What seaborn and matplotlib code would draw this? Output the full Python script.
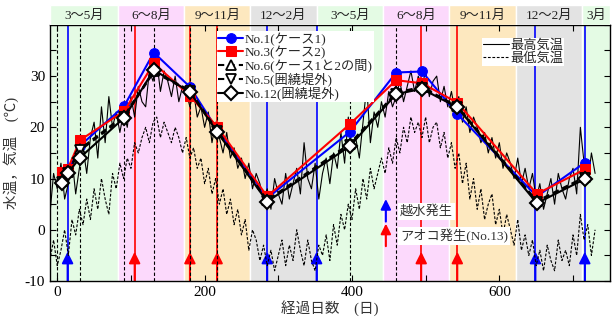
import numpy as np
import pandas as pd
import seaborn as sns
import matplotlib.pyplot as plt
from matplotlib.ticker import MultipleLocator, FuncFormatter

# sampling days and water temperature at each point
sample_days = [7, 14, 31, 91, 131, 180, 217, 285, 397, 460, 495, 543, 651, 716]
no1 = [10.8, 11.5, 16.4, 24.2, 34.6, 27.9, 19.6, 6.2, 19.1, 30.7, 30.9, 22.6, 6.5, 13.1]
no3 = [11.2, 11.8, 17.5, 23.2, 32.5, 26.2, 20.1, 6.5, 20.6, 29.2, 28.6, 24.8, 7.0, 11.8]
no6 = [9.6, 11.2, 15.8, 22.3, 31.0, 27.2, 19.4, 5.8, 16.8, 26.8, 27.9, 24.1, 5.6, 10.3]
no5 = [9.4, 11.0, 15.5, 22.0, 30.8, 27.0, 19.2, 5.6, 16.5, 26.6, 27.6, 24.0, 5.4, 10.1]
no12 = [9.2, 11.0, 14.1, 21.9, 31.2, 26.9, 19.1, 5.5, 16.3, 26.5, 27.5, 23.9, 5.2, 9.9]

# air temperature, read every 5 days from day -10 to day 730
max_temp = [3, 11, 8, 13, 6, 9, 14, 7, 12, 16,
            11, 18, 21, 14, 24, 17, 26, 20, 23, 19,
            23, 20, 26, 22, 28, 25, 24, 31, 29, 33,
            27, 31, 29, 26, 30, 25, 28, 27, 24, 27,
            22, 24, 20, 23, 17, 21, 18, 15, 19, 14,
            16, 12, 14, 10, 13, 8, 11, 9, 6, 8,
            4, 10, 7, 5, 11, 6, 9, 12, 7, 17,
            10, 8, 13, 6, 11, 14, 9, 15, 12, 19,
            13, 22, 16, 18, 14, 21, 28, 17, 23, 20,
            25, 22, 27, 24, 26, 29, 25, 28, 31, 27,
            30, 28, 31, 26, 29, 30, 25, 28, 24, 27,
            23, 26, 21, 24, 19, 22, 20, 17, 19, 15,
            18, 14, 17, 12, 15, 13, 10, 14, 9, 12,
            8, 11, 6, 9, 4, 7, 10, 5, 11, 8,
            6, 10, 12, 7, 20, 13, 9, 15, 11]
min_temp = [-6, -2, -7, -4, 0, -5, 2, -1, 4, 1,
            6, 2, 8, 4, 10, 6, 3, 11, 8, 13,
            10, 14, 12, 17, 15, 18, 20, 17, 21, 22,
            18, 21, 19, 17, 20, 18, 15, 18, 14, 16,
            12, 14, 9, 12, 7, 10, 5, 8, 3, 6,
            1, 4, -1, 2, -4, 0, -2, -6, -3, -7,
            -4, -8, -5, -2, -7, -3, -6, 0, -4, -7,
            -2, -6, -8, -3, -5, -1, -6, 1, -3, 3,
            0, 5, 2, 8, 4, 10, 6, 12, 8, 11,
            14, 11, 16, 13, 18, 15, 20, 17, 22, 19,
            21, 18, 22, 17, 20, 21, 16, 19, 14, 17,
            12, 15, 9, 13, 6, 10, 4, 8, 2, 5,
            7, 1, 4, -1, 3, 0, -3, 2, -4, -1,
            -5, -2, -7, -4, -8, -3, -6, -8, -2, -6,
            -4, -7, -1, -5, 3, -2, 1, -5, 0]
temp_days = list(range(-10, 731, 5))

# seasons shown as coloured bands
season_edges = [-10, 82, 172, 262, 352, 442, 532, 622, 712, 750]
season_names = ["3～5月", "6～8月", "9～11月", "12～2月", "3～5月",
                "6～8月", "9～11月", "12～2月", "3月"]
season_colors = ["#e4fbe4", "#fcd9fc", "#fde8bf", "#e3e3e3"]

# event days
overflow_days = [14, 285, 352, 649, 716]     # 越水発生 (blue)
bloom_days = [105, 180, 217, 494, 543]       # アオコ発生 (red)
survey_days = [0, 31, 91, 131, 180, 217, 397, 460]

sns.set_style("ticks")
plt.rcParams["font.family"] = ["Liberation Serif", "Noto Sans CJK JP"]
plt.rcParams["axes.unicode_minus"] = False
plt.rcParams["axes.edgecolor"] = "black"

fig = plt.figure(figsize=(6.16, 3.23), dpi=100)
ax = fig.add_axes([0.081, 0.130, 0.909, 0.793])
hx = fig.add_axes([0.081, 0.923, 0.909, 0.062])

# season bands in the plot and in the header strip
for i, name in enumerate(season_names):
    lo, hi = season_edges[i], season_edges[i + 1]
    c = season_colors[i % 4]
    ax.axvspan(lo, hi, facecolor=c, edgecolor="white", lw=1, zorder=0)
    hx.axvspan(lo, hi, facecolor=c, edgecolor="white", lw=1)
    hx.text((lo + hi) / 2, 0.45, name, ha="center", va="center", fontsize=9.5, color="#222222")
hx.set_xlim(-10, 750)
hx.set_ylim(0, 1)
hx.axis("off")


def event_arrow(day, color):
    # small arrow head sitting on the event line near the bottom
    ax.annotate("", xy=(day, -4.3), xytext=(day, -10),
                arrowprops=dict(arrowstyle="-|>", color=color, lw=1.4,
                                mutation_scale=17, shrinkA=0, shrinkB=0), zorder=1)


# vertical event lines with arrow heads at the bottom
for d in bloom_days:
    ax.axvline(d, color="red", lw=1.2, zorder=1)
    event_arrow(d, "red")
for d in overflow_days:
    ax.axvline(d, color="blue", lw=1.2, zorder=1)
    event_arrow(d, "blue")
for d in survey_days:
    ax.axvline(d, color="black", lw=0.8, ls=(0, (3, 2)), zorder=1)

# daily air temperature
temp_df = pd.DataFrame({"day": temp_days, "tmax": max_temp, "tmin": min_temp})
sns.lineplot(data=temp_df, x="day", y="tmax", ax=ax, color="black", lw=0.8, zorder=2)
tmax_line = ax.lines[-1]
sns.lineplot(data=temp_df, x="day", y="tmin", ax=ax, color="black", lw=0.8,
             linestyle=(0, (2.5, 1.5)), zorder=2)
tmin_line = ax.lines[-1]

# water temperature at sampling points
series_df = pd.DataFrame({"day": sample_days, "No.1": no1, "No.3": no3,
                          "No.6": no6, "No.5": no5, "No.12": no12})
series_styles = [
    ("No.1", "No.1(ケース1)", dict(color="blue", marker="o", ms=7, mfc="blue", mec="blue", lw=1.5)),
    ("No.3", "No.3(ケース2)", dict(color="red", marker="s", ms=7, mfc="red", mec="red", lw=1.5)),
    ("No.6", "No.6(ケース1と2の間)", dict(color="black", marker="^", ms=7, mfc="white", mec="black",
                                      mew=1.3, lw=1.5, linestyle=(0, (3, 2)))),
    ("No.5", "No.5(囲繞堤外)", dict(color="black", marker="v", ms=7, mfc="white", mec="black",
                                 mew=1.3, lw=1.5, linestyle=(0, (3, 2)))),
    ("No.12", "No.12(囲繞堤外)", dict(color="black", marker="D", ms=7, mfc="white", mec="black",
                                   mew=1.5, lw=1.5)),
]
handles, labels = [], []
for z, (col, label, kw) in enumerate(series_styles):
    sns.lineplot(data=series_df, x="day", y=col, ax=ax, zorder=3 + z, **kw)
    handles.append(ax.lines[-1])
    labels.append(label)

leg1 = ax.legend(handles, labels, loc="upper left", bbox_to_anchor=(0.298, 0.975),
                 fontsize=9.5, frameon=True, fancybox=False, edgecolor="none",
                 facecolor="white", framealpha=1, handlelength=1.9, handletextpad=0.1,
                 labelspacing=0.0, borderpad=0.1, borderaxespad=0)
leg1.set_zorder(20)
ax.add_artist(leg1)
leg2 = ax.legend([tmax_line, tmin_line], ["最高気温", "最低気温"], loc="upper left",
                 bbox_to_anchor=(0.772, 0.95), fontsize=9.5, frameon=True, fancybox=False,
                 edgecolor="none", facecolor="white", framealpha=1, handlelength=1.9,
                 handletextpad=0.1, labelspacing=0.05, borderpad=0.1, borderaxespad=0)
leg2.set_zorder(20)

# arrow key for the events
ax.annotate("", xy=(446, 6.0), xytext=(446, 1.6),
            arrowprops=dict(arrowstyle="-|>", color="blue", lw=1.5, mutation_scale=15,
                            shrinkA=0, shrinkB=0), zorder=15)
ax.annotate("", xy=(446, 1.2), xytext=(446, -3.2),
            arrowprops=dict(arrowstyle="-|>", color="red", lw=1.5, mutation_scale=15,
                            shrinkA=0, shrinkB=0), zorder=15)
ax.text(465, 3.6, "越水発生", fontsize=9.5, va="center", color="#333333", zorder=15,
        bbox=dict(fc="white", ec="none", pad=1.5))
ax.text(465, -1.2, "アオコ発生(No.13)", fontsize=9.5, va="center", color="#333333", zorder=15,
        bbox=dict(fc="white", ec="none", pad=1.5))

# axes, ticks and labels
ax.set_xlim(-10, 750)
ax.set_ylim(-10, 40)
ax.xaxis.set_major_locator(MultipleLocator(200))
ax.xaxis.set_minor_locator(MultipleLocator(100))
ax.yaxis.set_major_locator(MultipleLocator(10))
ax.yaxis.set_minor_locator(MultipleLocator(5))
ax.yaxis.set_major_formatter(FuncFormatter(lambda v, p: "" if v > 35 else f"{v:g}"))
ax.tick_params(which="both", direction="in", top=True, right=True, width=0.8,
               labelsize=11, colors="black")
ax.tick_params(which="major", length=4)
ax.tick_params(which="minor", length=4)
for s in ax.spines.values():
    s.set_linewidth(1)
    s.set_color("black")
ax.set_xlabel("経過日数　(日)", fontsize=10.5, color="#333333", labelpad=1)
ax.set_ylabel("水温，気温　(℃)", fontsize=10.5, color="#333333", labelpad=4)

fig.savefig("out.png", dpi=100)
